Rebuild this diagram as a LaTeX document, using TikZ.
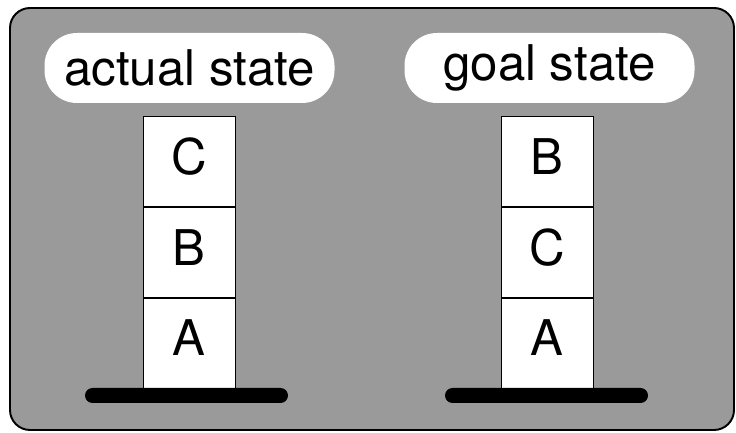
\documentclass[tikz,border=0pt]{standalone}
\usepackage{fontspec}
\setmainfont{TeX Gyre Heros}
\usetikzlibrary{positioning}
\definecolor{bwScreen}{HTML}{9A9A9A}

\begin{document}
\begin{tikzpicture}[font=\fontsize{28}{30}\selectfont,
      lbl/.style={fill=white,rounded corners=0.65cm,minimum width=5.8cm,
                  minimum height=1.4cm,inner sep=0pt},
      blk/.style={draw,fill=white,line width=0.5pt,minimum width=1.84cm,
                  minimum height=1.8cm,inner sep=0pt,text depth=0.2cm},
      floor/.style={fill=black,rounded corners=0.15cm,minimum width=4.06cm,
                    minimum height=0.3cm,inner sep=0pt}]

    \useasboundingbox (0,0) rectangle (14.72,8.66);
    \draw[line width=1.1pt,fill=bwScreen,rounded corners=0.4cm] (0.2,0.06) rectangle (14.68,8.5);

    \node[lbl] (actual) at (3.79,7.3) {actual state};
    \node[lbl] (goal) at (10.99,7.3) {goal state};

    % actual state: A, B, C
    \node[blk] (a1) at (3.78,1.8) {A};
    \node[blk,above=0pt of a1] (a2) {B};
    \node[blk,above=0pt of a2] (a3) {C};
    \node[floor] (fa) at (3.73,0.75) {};

    % goal state: A, C, B
    \node[blk] (g1) at (10.94,1.8) {A};
    \node[blk,above=0pt of g1] (g2) {C};
    \node[blk,above=0pt of g2] (g3) {B};
    \node[floor] (fg) at (10.93,0.75) {};
  \end{tikzpicture}
\end{document}
